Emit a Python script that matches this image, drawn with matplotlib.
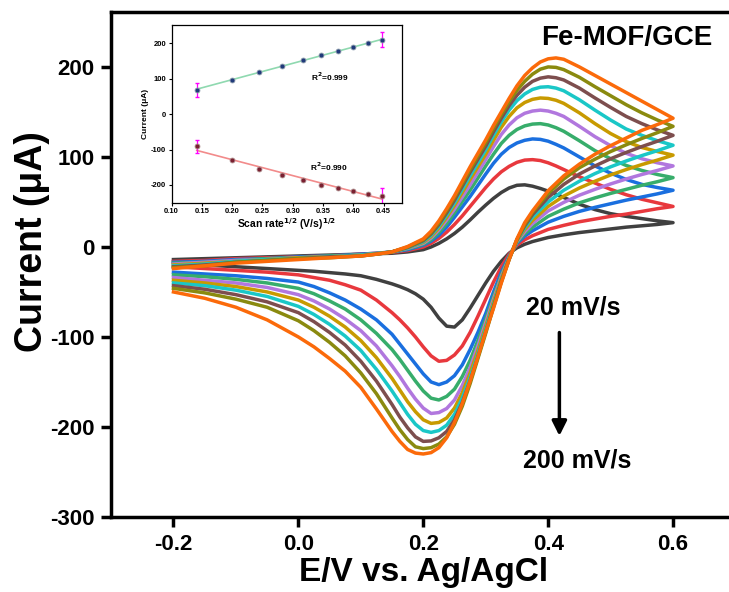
import numpy as np
import matplotlib
matplotlib.use("Agg")
import matplotlib.pyplot as plt

plt.rcParams['font.family'] = ['Liberation Sans', 'DejaVu Sans']
plt.rcParams['font.weight'] = 'bold'
plt.rcParams['axes.unicode_minus'] = False

# scan rates (mV/s) and colours of the CV curves
scan_rates = [20, 40, 60, 80, 100, 120, 140, 160, 180, 200]
colors = ['#404040', '#e8383d', '#1a6fdf', '#37ad6b', '#b177de',
          '#c89a00', '#1ac7c7', '#7d4e4e', '#8a8a0f', '#fb6a0a']

# forward (anodic) sweep, -0.2 -> 0.6 V
E_fwd = [-0.2, -0.15, -0.1, -0.05, 0.0, 0.05, 0.1, 0.125, 0.15, 0.175, 0.2, 0.2125,
         0.225, 0.2375, 0.25, 0.2625, 0.275, 0.2875, 0.3, 0.3125, 0.325, 0.3375, 0.35,
         0.3625, 0.375, 0.3875, 0.4, 0.4125, 0.425, 0.45, 0.475, 0.5, 0.525, 0.55, 0.575, 0.6]
I_fwd = [
    [-14, -13, -12, -11, -10, -9, -8, -7.5, -7, -5.5, -3, 0, 4, 9, 15, 22, 30, 38.5, 46.5, 54,
     60.5, 65.5, 68.5, 69, 67.5, 65, 62, 58.5, 55, 47.5, 41.5, 37, 34, 31.5, 29, 27],
    [-16, -15, -13, -12, -11, -10, -8, -7, -6, -4, 0, 4, 9.5, 16.5, 25, 34.5, 45, 55.5, 66, 75.5,
     83.5, 89.5, 94, 96.5, 97, 96, 93.5, 90, 86, 78, 71, 64, 58, 53, 49, 45],
    [-17, -16, -14, -13, -11, -10, -8, -7, -5.5, -3, 2, 6.5, 13, 22, 33, 44.5, 56, 68.5, 81, 93,
     103, 110.5, 115.5, 118.5, 120, 119.5, 117.5, 114, 110, 100, 90, 82, 75, 69.5, 66, 63],
    [-18, -17, -15, -13, -12, -10, -9, -7.5, -5.5, -2, 3, 8, 16, 26, 38, 50.5, 63, 76.5, 90, 103,
     115, 124, 130.5, 134.5, 136.5, 137, 135.5, 132.5, 128.5, 118, 107, 98, 90.5, 85, 80.5, 77],
    [-19, -17, -15, -14, -12, -11, -9, -7.5, -5.5, -1.5, 4, 10, 19, 30, 42, 55.5, 69, 83, 97, 111.5,
     125, 135.5, 143.5, 148.5, 151, 152, 151, 148.5, 145, 134, 122.5, 112.5, 104, 98, 93.5, 90],
    [-20, -18, -16, -14, -12, -11, -9, -7.5, -5.5, -1, 5, 11.5, 21, 33, 46, 60.5, 75, 89, 103, 118.5,
     133, 145, 154.5, 160.5, 164, 165.5, 165, 163, 159.5, 149, 137, 126, 117, 110.5, 106, 102],
    [-21, -19, -16, -14, -13, -11, -9, -7.5, -5.5, -1, 6, 13, 23, 35.5, 49, 64, 79, 93.5, 108, 124,
     139, 152, 162.5, 170, 175, 177.5, 178, 176.5, 173.5, 163.5, 152, 141, 131, 124, 118, 113],
    [-22, -20, -17, -15, -13, -11, -10, -8, -5.5, -0.5, 7, 14.5, 25, 38, 52, 67.5, 83, 97.5, 112, 128,
     143, 157, 168.5, 177.5, 184, 187.5, 189, 188, 185.5, 176.5, 165.5, 155, 145, 137, 130, 124],
    [-23, -21, -17, -15, -13, -12, -10, -8, -5.5, 0, 8, 16, 27, 40.5, 55, 70.5, 86, 101, 116, 132,
     147, 161.5, 174, 184, 192, 197.5, 200, 199.5, 197, 188.5, 178, 168, 158, 149, 141, 134],
    [-24, -21, -18, -16, -14, -12, -10, -8, -5.5, 0.5, 9, 17.5, 29, 42.5, 57, 73, 89, 104, 119, 135,
     150, 165, 179, 190.5, 199, 205.5, 209, 210, 208.5, 200, 190.5, 181, 171.5, 162, 152.5, 143],
]

# reverse (cathodic) sweep, 0.6 -> -0.2 V
E_rev = [0.6, 0.575, 0.55, 0.525, 0.5, 0.475, 0.45, 0.425, 0.4, 0.375, 0.3625, 0.35, 0.3375,
         0.325, 0.3125, 0.3, 0.2875, 0.275, 0.2625, 0.25, 0.2375, 0.225, 0.2125, 0.2, 0.1875,
         0.175, 0.1625, 0.15, 0.125, 0.1, 0.075, 0.05, 0.025, 0.0, -0.05, -0.1, -0.15, -0.2]
I_rev = [
    [27, 25, 23.5, 22, 20, 18, 16, 13.5, 10.5, 6, 3, -1, -7, -16, -27, -40, -54, -68, -81, -89,
     -88, -79, -67, -58, -52, -47.5, -44, -41, -36, -32, -30, -28.5, -27, -26, -24, -22, -20, -17],
    [45, 42.5, 39.5, 36.5, 34, 31, 28, 24, 19.5, 12.5, 8, 2, -8, -22, -39, -58, -77, -95, -110, -120,
     -126, -127, -121, -111, -100, -90, -81, -73, -59, -48, -42, -37, -34, -31, -28, -26, -24, -22],
    [63, 59, 55.5, 52, 48, 44, 39.5, 34, 27.5, 18, 12, 4, -10, -28, -50, -74, -95, -114, -131, -143,
     -150, -153, -150, -141, -130, -119, -108, -97, -81, -69, -59, -51, -44, -39, -35, -32, -30, -28],
    [77, 72.5, 68.5, 64, 59.5, 54.5, 49, 42, 34, 22, 14.5, 5, -11, -31, -55, -80, -104, -126, -144, -158,
     -166, -170, -168, -160, -149, -137, -125, -114, -96, -81, -69, -60, -52, -46, -40, -36, -33, -31],
    [90, 85, 80.5, 75.5, 70, 64, 57.5, 49.5, 40, 26, 17, 6, -12, -33, -58, -84, -110, -134, -154, -170,
     -179.5, -184, -185, -179, -169, -157, -144, -132, -110, -93, -80, -69, -60, -53, -45, -40, -37, -34],
    [102, 96.5, 91.5, 86, 80, 73, 65.5, 56.5, 45, 29.5, 19.5, 7, -12.5, -35, -61, -88, -115, -140, -162, -179,
     -190, -195, -196, -192, -183, -172, -159, -146, -123, -104, -89, -77, -67, -59, -50, -44, -40, -37],
    [113, 107, 101.5, 95.5, 89, 81.5, 73, 63, 50, 33, 21.5, 7.5, -13, -37, -64, -91, -119, -145, -168, -186,
     -198, -204, -206, -204, -197, -186, -173, -160, -136, -115, -99, -86, -75, -66, -55, -48, -43, -40],
    [124, 117.5, 111.5, 105, 98, 90, 81, 69.5, 55, 36, 23.5, 8, -13.5, -38, -66, -94, -122, -149, -173, -192,
     -205, -212, -215.5, -216, -211, -201, -189, -175, -149, -127, -109, -95, -83, -73, -61, -53, -47, -43],
    [134, 127, 120.5, 113.5, 106, 97.5, 88, 75.5, 59.5, 38.5, 25, 8, -14, -39, -67, -96, -124, -152, -177, -197,
     -211, -219, -223, -224, -222, -214, -203, -190, -163, -140, -121, -106, -93, -82, -67, -58, -51, -46],
    [143, 136, 129.5, 121, 112.5, 103, 92, 79, 62.5, 40, 27, 9, -14, -40, -68, -94, -122, -149, -174, -195,
     -212, -223, -228.5, -230, -229, -225, -216, -205, -180, -156, -138, -124, -111, -100, -81, -67, -57, -50],
]

# inset: peak current vs square root of scan rate
sqrt_rate = [0.1414, 0.2, 0.2449, 0.2828, 0.3162, 0.3464, 0.3742, 0.4, 0.4243, 0.4472]
ipa = [69, 97, 119, 137, 152, 167, 178, 189, 200, 210]
ipc = [-91, -129, -154, -172, -186, -199, -209, -218, -225, -231]
ipa_err = [20, 0, 0, 0, 0, 0, 0, 0, 0, 21]
ipc_err = [19, 0, 0, 0, 0, 0, 0, 0, 0, 22]

fig = plt.figure(figsize=(7.29, 5.92), dpi=100)
ax = fig.add_axes([0.1523, 0.1267, 0.8566, 0.853])

for k in range(len(scan_rates)):
    E = E_fwd + E_rev[1:]
    I = I_fwd[k] + I_rev[k][1:]
    ax.plot(E, I, color=colors[k], lw=2.5, solid_joinstyle='round')

ax.set_xlim(-0.3, 0.7)
ax.set_ylim(-300, 261)
ax.set_xticks([-0.2, 0.0, 0.2, 0.4, 0.6])
ax.set_xticklabels(['-0.2', '0.0', '0.2', '0.4', '0.6'])
ax.set_yticks([-300, -200, -100, 0, 100, 200])
ax.set_yticklabels(['-300', '-200', '-100', '0', '100', '200'])
ax.tick_params(direction='out', length=7, width=2.5, labelsize=16, pad=5)
for lab in ax.get_xticklabels() + ax.get_yticklabels():
    lab.set_fontweight('bold')
for s in ax.spines.values():
    s.set_linewidth(2.5)
ax.set_xlabel('E/V vs. Ag/AgCl', fontsize=24, fontweight='bold', labelpad=2)
ax.set_ylabel('Current (μA)', fontsize=27, fontweight='bold')
ax.yaxis.set_label_coords(-0.098, 0.545)

ax.text(0.526, 232, 'Fe-MOF/GCE', fontsize=20, fontweight='bold', ha='center', va='center')
ax.text(0.44, -67, '20 mV/s', fontsize=18, fontweight='bold', ha='center', va='center')
ax.text(0.446, -237, '200 mV/s', fontsize=18, fontweight='bold', ha='center', va='center')
ax.annotate('', xy=(0.418, -213), xytext=(0.418, -92),
            arrowprops=dict(arrowstyle='-|>', color='black', lw=2.5, mutation_scale=22))

# inset
ins = fig.add_axes([0.2355, 0.6576, 0.3155, 0.3002])
x = np.array(sqrt_rate)
pa = np.polyfit(x, ipa, 1)
pc = np.polyfit(x, ipc, 1)
ins.plot(x[[0, -1]], np.polyval(pa, x[[0, -1]]), color='#8fd9b0', lw=1.2)
ins.plot(x[[0, -1]], np.polyval(pc, x[[0, -1]]), color='#f28b8b', lw=1.2)
ins.errorbar(x, ipa, yerr=ipa_err, fmt='none', ecolor='#ff00ff', elinewidth=0.9,
             capsize=1.5, ls=':')
ins.errorbar(x, ipc, yerr=ipc_err, fmt='none', ecolor='#ff00ff', elinewidth=0.9,
             capsize=1.5, ls=':')
ins.plot(x, ipa, 'o', ms=3.5, mfc='#1f3a7a', mec='#8899aa', mew=0.6)
ins.plot(x, ipc, 'o', ms=3.5, mfc='#7a2030', mec='#aa8888', mew=0.6)
ins.set_xlim(0.10, 0.48)
ins.set_ylim(-250, 252)
ins.set_xticks([0.10, 0.15, 0.20, 0.25, 0.30, 0.35, 0.40, 0.45])
ins.set_xticklabels(['0.10', '0.15', '0.20', '0.25', '0.30', '0.35', '0.40', '0.45'])
ins.set_yticks([-200, -100, 0, 100, 200])
ins.set_yticklabels(['-200', '-100', '0', '100', '200'])
ins.tick_params(direction='out', length=2.5, width=0.8, labelsize=5.5, pad=1.5)
for s in ins.spines.values():
    s.set_linewidth(0.9)
ins.set_xlabel('Scan rate$^{\\mathbf{1/2}}$ (V/s)$^{\\mathbf{1/2}}$', fontsize=7.5,
               fontweight='bold', labelpad=1)
ins.set_ylabel('Current (μA)', fontsize=6, fontweight='bold', labelpad=1)
ins.text(0.331, 106, 'R$^{\\mathbf{2}}$=0.999', fontsize=6, fontweight='bold', va='center')
ins.text(0.329, -148, 'R$^{\\mathbf{2}}$=0.990', fontsize=6, fontweight='bold', va='center')

fig.savefig('out.png', dpi=100)
